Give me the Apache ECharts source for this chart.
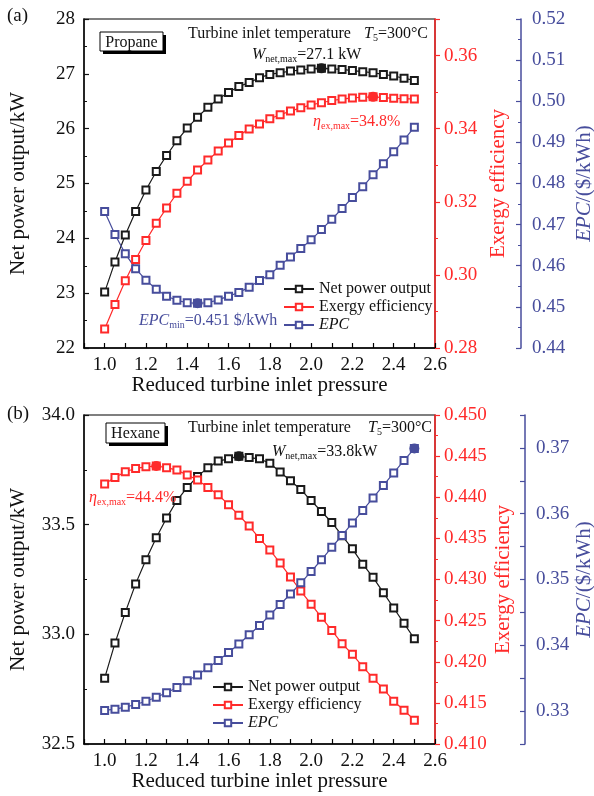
<!DOCTYPE html>
<html>
<head>
<meta charset="utf-8">
<script src="https://cdn.jsdelivr.net/npm/echarts@6/dist/echarts.min.js"></script>
<style>
  html, body { margin: 0; padding: 0; background: #fff; }
  #chart { width: 594px; height: 796px; }
</style>
</head>
<body>
<div id="chart"></div>
<script>
// reduced turbine inlet pressure (x values, both panels)
var pressure = [1.00, 1.05, 1.10, 1.15, 1.20, 1.25, 1.30, 1.35, 1.40, 1.45, 1.50,
                1.55, 1.60, 1.65, 1.70, 1.75, 1.80, 1.85, 1.90, 1.95, 2.00,
                2.05, 2.10, 2.15, 2.20, 2.25, 2.30, 2.35, 2.40, 2.45, 2.50];

// (a) Propane
var propanePower = [23.02, 23.57, 24.06, 24.49, 24.88, 25.22, 25.51, 25.78, 26.01, 26.21, 26.39,
                    26.54, 26.66, 26.77, 26.84, 26.93, 26.99, 27.02, 27.05, 27.07, 27.09,
                    27.10, 27.09, 27.08, 27.06, 27.04, 27.02, 26.99, 26.96, 26.92, 26.88];
var propaneExergy = [0.2852, 0.2919, 0.2984, 0.3042, 0.3094, 0.3141, 0.3183, 0.3223, 0.3256, 0.3287, 0.3314,
                     0.3339, 0.3361, 0.3381, 0.3399, 0.3413, 0.3427, 0.3438, 0.3448, 0.3457, 0.3465,
                     0.3471, 0.3477, 0.3481, 0.3484, 0.3486, 0.3487, 0.3485, 0.3483, 0.3482, 0.3481];
var propaneEPC = [0.4732, 0.4676, 0.4629, 0.4593, 0.4565, 0.4543, 0.4526, 0.4516, 0.4510, 0.4509, 0.4510,
                  0.4517, 0.4526, 0.4535, 0.4548, 0.4564, 0.4578, 0.4601, 0.4621, 0.4642, 0.4663,
                  0.4688, 0.4713, 0.4739, 0.4766, 0.4792, 0.4821, 0.4848, 0.4877, 0.4906, 0.4937];

// (b) Hexane
var hexanePower = [32.80, 32.96, 33.10, 33.23, 33.34, 33.44, 33.53, 33.61, 33.67, 33.72, 33.76,
                   33.79, 33.80, 33.812, 33.806, 33.80, 33.78, 33.74, 33.70, 33.66, 33.61,
                   33.56, 33.51, 33.45, 33.39, 33.32, 33.26, 33.19, 33.12, 33.05, 32.98];
var hexaneExergy = [0.4416, 0.4424, 0.4431, 0.4435, 0.4437, 0.4438, 0.4436, 0.4433, 0.4427, 0.4421, 0.4412,
                    0.4403, 0.4391, 0.4378, 0.4365, 0.4350, 0.4336, 0.4320, 0.4303, 0.4286, 0.4270,
                    0.4254, 0.4238, 0.4222, 0.4209, 0.4194, 0.4180, 0.4167, 0.4152, 0.4141, 0.4129];
var hexaneEPC = [0.3301, 0.3303, 0.3306, 0.3310, 0.3315, 0.3321, 0.3328, 0.3336, 0.3346, 0.3355, 0.3366,
                 0.3377, 0.3389, 0.3402, 0.3416, 0.3430, 0.3446, 0.3462, 0.3478, 0.3495, 0.3512,
                 0.3530, 0.3549, 0.3567, 0.3586, 0.3605, 0.3624, 0.3643, 0.3662, 0.3681, 0.3699];

var seriesNames = ['Net power output', 'Exergy efficiency', 'EPC'];

var FONT = '"Liberation Serif", "Times New Roman", serif';
var BLACK = '#1a1a1a', RED = '#ff2a2a', BLUE = '#474d9c';

function xAxisFor(g) {
  return {
    type: 'value', gridIndex: g, min: 0.9, max: 2.6, interval: 0.1,
    axisLine: { onZero: false, lineStyle: { color: '#000', width: 1.5 } },
    axisTick: { inside: true, length: 5, lineStyle: { color: '#000', width: 1.2 } },
    axisLabel: {
      margin: 8, color: '#111', fontSize: 19, fontFamily: FONT,
      formatter: function (v) { return Math.round(v * 10) % 2 === 0 ? v.toFixed(1) : ''; }
    },
    splitLine: { show: false },
    name: 'Reduced turbine inlet pressure', nameLocation: 'middle', nameGap: 27, nameMoveOverlap: false,
    nameTextStyle: { fontSize: 21, fontFamily: FONT, color: '#111' }
  };
}

function yAxisFor(g, o) {
  var right = o.pos !== 'left';
  return {
    type: 'value', gridIndex: g, position: right ? 'right' : 'left', offset: o.offset || 0,
    min: o.min, max: o.max, interval: o.interval,
    axisLine: { show: true, lineStyle: { color: o.color, width: 1.5 } },
    axisTick: { inside: o.inside, length: 5, lineStyle: { color: o.color, width: 1.2 } },
    minorTick: { show: !!o.minor, splitNumber: 2, length: 3, lineStyle: { color: o.color, width: 1 } },
    axisLabel: { margin: o.margin || 9, color: o.color, fontSize: 19, fontFamily: FONT, formatter: o.fmt },
    splitLine: { show: false },
    name: o.name, nameLocation: 'middle', nameGap: o.nameGap, nameRotate: 90, nameMoveOverlap: false,
    nameTextStyle: {
      fontSize: 21, fontFamily: FONT, color: o.color,
      rich: { i: { fontStyle: 'italic', fontSize: 21, fontFamily: FONT, color: o.color } }
    }
  };
}

function lineSeries(name, ys, color, g, yi, mark) {
  return {
    name: name, type: 'line', xAxisIndex: g, yAxisIndex: yi,
    data: pressure.map(function (p, i) { return [p, ys[i]]; }),
    symbol: 'emptyRect', symbolSize: 7,
    lineStyle: { color: color, width: 1.2 },
    itemStyle: { color: color, borderWidth: 1.3 },
    markPoint: {
      symbol: 'circle', symbolSize: 10, label: { show: false },
      itemStyle: { color: color },
      data: [{ type: mark, valueIndex: 1 }]
    }
  };
}

function legendFor(left, top, lh) {
  return {
    orient: 'vertical', left: left, top: top, padding: 0, itemGap: 2,
    itemWidth: 30, itemHeight: 8, data: seriesNames,
    textStyle: {
      fontSize: 16, fontFamily: FONT, color: '#111', lineHeight: lh,
      rich: { i: { fontStyle: 'italic', fontSize: 16, fontFamily: FONT, color: '#111' } }
    },
    formatter: function (n) { return n === 'EPC' ? '{i|EPC}' : n; }
  };
}

var subRich = function (color) {
  return {
    n: { fontSize: 16, fontFamily: FONT, fill: color },
    i: { fontSize: 16, fontFamily: FONT, fontStyle: 'italic', fill: color },
    s: { fontSize: 10, fontFamily: FONT, fill: color, padding: [8, 0, 0, 0] }
  };
};

function label(x, y, text, color, size, align) {
  return {
    type: 'text', x: x, y: y, z: 100,
    style: { text: text, fill: color || '#111', font: (size || 16) + 'px ' + FONT,
             align: align || 'left', verticalAlign: 'middle', rich: subRich(color || '#111') }
  };
}

function box(x, y, w, h, text) {
  return [
    { type: 'rect', shape: { x: x + 3, y: y + 3, width: w, height: h }, style: { fill: '#000' }, z: 100 },
    { type: 'rect', shape: { x: x, y: y, width: w, height: h }, style: { fill: '#fff', stroke: '#000', lineWidth: 1 }, z: 101 },
    { type: 'text', x: x + w / 2, y: y + h / 2 + 1, z: 102,
      style: { text: text, fill: '#111', font: '16px ' + FONT, align: 'center', verticalAlign: 'middle' } }
  ];
}

var chart = echarts.init(document.getElementById('chart'), null, { renderer: 'canvas' });

var gridBase = { left: 84, width: 351, height: 329, show: true, borderColor: '#000', borderWidth: 1.2,
                 backgroundColor: 'transparent', containLabel: false, outerBoundsMode: 'none' };

var option = {
  animation: false,
  backgroundColor: '#fff',
  grid: [
    Object.assign({}, gridBase, { top: 19 }),
    Object.assign({}, gridBase, { top: 415 })
  ],
  xAxis: [xAxisFor(0), xAxisFor(1)],
  yAxis: [
    yAxisFor(0, { pos: 'left', min: 22, max: 28, interval: 1, color: '#111', inside: true, minor: true,
                  name: 'Net power output/kW', nameGap: 55 }),
    yAxisFor(0, { min: 0.28, max: 0.37, interval: 0.02, color: RED, inside: false, minor: true,
                  fmt: function (v) { return Math.round(v * 100) % 2 === 0 ? v.toFixed(2) : ''; },
                  name: 'Exergy efficiency', nameGap: 53 }),
    yAxisFor(0, { offset: 86, min: 0.44, max: 0.52, interval: 0.01, color: BLUE, inside: true, minor: true, margin: 11,
                  fmt: function (v) { return v.toFixed(2); },
                  name: '{i|EPC}/($/kWh)', nameGap: 53 }),
    yAxisFor(1, { pos: 'left', min: 32.5, max: 34.0, interval: 0.5, color: '#111', inside: true, minor: true,
                  fmt: function (v) { return v.toFixed(1); },
                  name: 'Net power output/kW', nameGap: 55 }),
    yAxisFor(1, { min: 0.41, max: 0.45, interval: 0.005, color: RED, inside: false, minor: true,
                  fmt: function (v) { return v.toFixed(3); },
                  name: 'Exergy efficiency', nameGap: 58 }),
    yAxisFor(1, { offset: 90, min: 0.325, max: 0.375, interval: 0.005, color: BLUE, inside: true, minor: false, margin: 11,
                  fmt: function (v) { return Math.round(v * 1000) % 10 === 0 ? v.toFixed(2) : ''; },
                  name: '{i|EPC}/($/kWh)', nameGap: 49 })
  ],
  legend: [legendFor(283, 281, 16), legendFor(212, 679, 14)],
  series: [
    lineSeries('Net power output', propanePower, BLACK, 0, 0, 'max'),
    lineSeries('Exergy efficiency', propaneExergy, RED, 0, 1, 'max'),
    lineSeries('EPC', propaneEPC, BLUE, 0, 2, 'min'),
    lineSeries('Net power output', hexanePower, BLACK, 1, 3, 'max'),
    lineSeries('Exergy efficiency', hexaneExergy, RED, 1, 4, 'max'),
    lineSeries('EPC', hexaneEPC, BLUE, 1, 5, 'max')
  ],
  graphic: [].concat(
    [label(7, 16, '(a)', '#111', 19)],
    box(100, 32, 63, 19, 'Propane'),
    [
      label(188, 34, 'Turbine inlet temperature'),
      label(428, 34, '{i|T}{s|5}{n|=300°C}', '#111', 16, 'right'),
      label(252, 55, '{i|W}{s|net,max}{n|=27.1 kW}'),
      label(313, 122, '{i|η}{s|ex,max}{n|=34.8%}', RED),
      label(139, 321, '{i|EPC}{s|min}{n|=0.451 $/kWh}', BLUE),
      label(7, 414, '(b)', '#111', 19)
    ],
    box(106, 423, 59, 20, 'Hexane'),
    [
      label(188, 428, 'Turbine inlet temperature'),
      label(432, 428, '{i|T}{s|5}{n|=300°C}', '#111', 16, 'right'),
      label(272, 452, '{i|W}{s|net,max}{n|=33.8kW}'),
      label(89, 498, '{i|η}{s|ex,max}{n|=44.4%}', RED)
    ]
  )
};

chart.setOption(option);
</script>
</body>
</html>
